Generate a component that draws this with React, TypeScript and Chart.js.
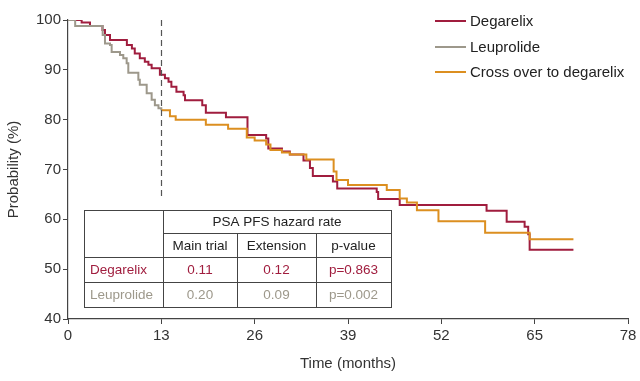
import React, { useEffect, useRef } from "react";
import { Chart, registerables } from "chart.js";
Chart.register(...registerables);

const seriesLabels = ["Degarelix", "Leuprolide", "Cross over to degarelix"];
const seriesColors = ["#a01d3e", "#9d988b", "#dc8f20"];

const degarelixT = [0, 1.9, 3.06, 4.8, 5.15, 5.85, 8.2, 8.9, 9.3, 10.0, 10.7, 11.2, 11.65, 12.8, 13.5, 14.0, 14.4, 15.1, 16.1, 16.3, 18.7, 19.2, 22.0, 25.0, 27.6, 27.9, 29.8, 30.9, 32.8, 33.7, 34.1, 36.9, 37.5, 43.0, 43.2, 46.2, 58.3, 61.1, 63.6, 64.1, 64.3, 70.4];
const degarelixV = [100, 99.5, 98.8, 98, 97, 96, 95, 94.3, 93.3, 92.3, 91.6, 91, 90.3, 89, 88.3, 87.6, 86.6, 85.6, 84.9, 83.9, 82.9, 81.4, 80.5, 76.9, 76.2, 74.2, 73.6, 73.0, 71.8, 70.3, 68.7, 67.6, 66.2, 65.5, 64.1, 62.9, 61.7, 59.5, 58.5, 57.0, 53.9, 53.9];

const leuprolideT = [0, 1.0, 4.83, 5.15, 5.85, 6.08, 7.24, 7.7, 8.17, 8.4, 9.8, 10.0, 10.96, 11.65, 12.1, 12.6, 13.0];
const leuprolideV = [100, 98.8, 97, 95.3, 95, 93.6, 93, 92.3, 91.3, 89.4, 88, 87, 85.3, 84, 82.9, 82.3, 81.9];

const crossoverT = [13.0, 14.2, 15.0, 19.2, 22.3, 24.9, 26.0, 27.6, 28.2, 29.8, 30.9, 33.2, 37.0, 37.4, 39.0, 44.4, 46.2, 47.2, 48.6, 51.6, 58.1, 64.3, 70.4];
const crossoverV = [81.9, 80.7, 80.0, 79.0, 78.2, 76.4, 75.8, 75.0, 73.9, 73.4, 73.0, 72.0, 69.6, 67.9, 66.9, 65.9, 64.2, 63.4, 61.8, 59.6, 57.3, 56.0, 56.0];

const crossoverMonth = 13;
const xMin = 0, xMax = 78, xStep = 13;
const yMin = 40, yMax = 100, yStep = 10;
const xTitle = "Time (months)";
const yTitle = "Probability (%)";

const tableTitle = "PSA PFS hazard rate";
const tableColumns = ["Main trial", "Extension", "p-value"];
const tableRowLabels = ["Degarelix", "Leuprolide"];
const mainTrial = ["0.11", "0.20"];
const extension = ["0.12", "0.09"];
const pValues = ["p=0.863", "p=0.002"];

const FONT = "'Liberation Sans', Arial, sans-serif";

const toPts = (t: number[], v: number[]) => t.map((x, i) => ({ x, y: v[i] }));

const overlayPlugin = {
  id: "overlay",
  afterDraw(chart: any) {
    const { ctx, scales } = chart;
    const xs = scales.x;
    const ys = scales.y;
    const colX = [84, 163, 237, 316, 391];
    const rowY = [210, 233, 257, 282, 307];

    ctx.save();
    // dashed crossover line
    const dx = Math.round(xs.getPixelForValue(crossoverMonth)) + 0.5;
    ctx.strokeStyle = "#555";
    ctx.lineWidth = 1.2;
    ctx.setLineDash([6, 4]);
    ctx.beginPath();
    ctx.moveTo(dx, ys.getPixelForValue(yMax));
    ctx.lineTo(dx, rowY[0] - 10);
    ctx.stroke();
    ctx.setLineDash([]);

    // table
    ctx.strokeStyle = "#444";
    ctx.lineWidth = 1;
    const h = (x1: number, x2: number, y: number) => {
      ctx.beginPath();
      ctx.moveTo(x1, y + 0.5);
      ctx.lineTo(x2, y + 0.5);
      ctx.stroke();
    };
    const v = (x: number, y1: number, y2: number) => {
      ctx.beginPath();
      ctx.moveTo(x + 0.5, y1);
      ctx.lineTo(x + 0.5, y2);
      ctx.stroke();
    };
    ctx.fillStyle = "#fff";
    ctx.fillRect(colX[0], rowY[0], colX[4] - colX[0], rowY[4] - rowY[0]);
    h(colX[0], colX[4] + 1, rowY[0]);
    h(colX[1], colX[4] + 1, rowY[1]);
    h(colX[0], colX[4] + 1, rowY[2]);
    h(colX[0], colX[4] + 1, rowY[3]);
    h(colX[0], colX[4] + 1, rowY[4]);
    v(colX[0], rowY[0], rowY[4]);
    v(colX[1], rowY[0], rowY[4]);
    v(colX[2], rowY[1], rowY[4]);
    v(colX[3], rowY[1], rowY[4]);
    v(colX[4], rowY[0], rowY[4]);

    ctx.font = `13.5px ${FONT}`;
    ctx.textBaseline = "middle";
    ctx.textAlign = "center";
    ctx.fillStyle = "#222";
    ctx.fillText(tableTitle, (colX[1] + colX[4]) / 2, (rowY[0] + rowY[1]) / 2 + 1);
    tableColumns.forEach((c, i) => {
      ctx.fillText(c, (colX[i + 1] + colX[i + 2]) / 2, (rowY[1] + rowY[2]) / 2 + 1);
    });
    tableRowLabels.forEach((lab, r) => {
      const cy = (rowY[r + 2] + rowY[r + 3]) / 2 + 1;
      ctx.fillStyle = seriesColors[r];
      ctx.textAlign = "left";
      ctx.fillText(lab, colX[0] + 6, cy);
      ctx.textAlign = "center";
      const vals = [mainTrial[r], extension[r], pValues[r]];
      vals.forEach((val, i) => ctx.fillText(val, (colX[i + 1] + colX[i + 2]) / 2, cy));
    });

    // legend
    const legY = [21, 47, 72];
    ctx.font = `15px ${FONT}`;
    ctx.textAlign = "left";
    seriesLabels.forEach((lab, i) => {
      ctx.strokeStyle = seriesColors[i];
      ctx.lineWidth = 2;
      ctx.beginPath();
      ctx.moveTo(435, legY[i]);
      ctx.lineTo(466, legY[i]);
      ctx.stroke();
      ctx.fillStyle = "#222";
      ctx.fillText(lab, 470, legY[i] + 1);
    });
    ctx.restore();
  },
};

export default function App() {
  const ref = useRef<HTMLCanvasElement>(null);
  useEffect(() => {
    if (!ref.current) return;
    const ds = (i: number, pts: any[]) => ({
      label: seriesLabels[i],
      data: pts,
      borderColor: seriesColors[i],
      backgroundColor: seriesColors[i],
      borderWidth: 2,
      pointRadius: 0,
      stepped: "before" as const,
      fill: false,
    });
    const chart = new Chart(ref.current, {
      type: "line",
      data: {
        datasets: [
          ds(2, toPts(crossoverT, crossoverV)),
          ds(1, toPts(leuprolideT, leuprolideV)),
          ds(0, toPts(degarelixT, degarelixV)),
        ],
      },
      options: {
        animation: false,
        responsive: false,
        devicePixelRatio: 1,
        layout: { padding: { top: 20, right: 12, left: 0, bottom: 0 } },
        plugins: { legend: { display: false }, tooltip: { enabled: false } },
        scales: {
          x: {
            type: "linear",
            min: xMin,
            max: xMax,
            ticks: { stepSize: xStep, color: "#333", font: { size: 15, family: FONT }, padding: 3, maxRotation: 0 },
            grid: { drawOnChartArea: false, drawTicks: true, tickLength: 5, color: "#444" },
            border: { display: true, color: "#444", width: 1.2 },
            title: { display: true, text: xTitle, color: "#333", font: { size: 15, family: FONT }, padding: { top: 4, bottom: 8 } },
            afterFit: (s: any) => { s.height = 62; },
          },
          y: {
            type: "linear",
            min: yMin,
            max: yMax,
            ticks: { stepSize: yStep, color: "#333", font: { size: 15, family: FONT }, padding: 2 },
            grid: { drawOnChartArea: false, drawTicks: true, tickLength: 5, color: "#444" },
            border: { display: true, color: "#444", width: 1.2 },
            title: { display: true, text: yTitle, color: "#333", font: { size: 15, family: FONT }, padding: { top: 5, bottom: 0 } },
            afterFit: (s: any) => { s.width = 68; },
          },
        },
      },
      plugins: [overlayPlugin],
    });
    return () => chart.destroy();
  }, []);
  return (
    <div style={{ position: "absolute", left: 0, top: 0, width: 640, height: 381, background: "#fff" }}>
      <canvas ref={ref} width={640} height={381} />
    </div>
  );
}
